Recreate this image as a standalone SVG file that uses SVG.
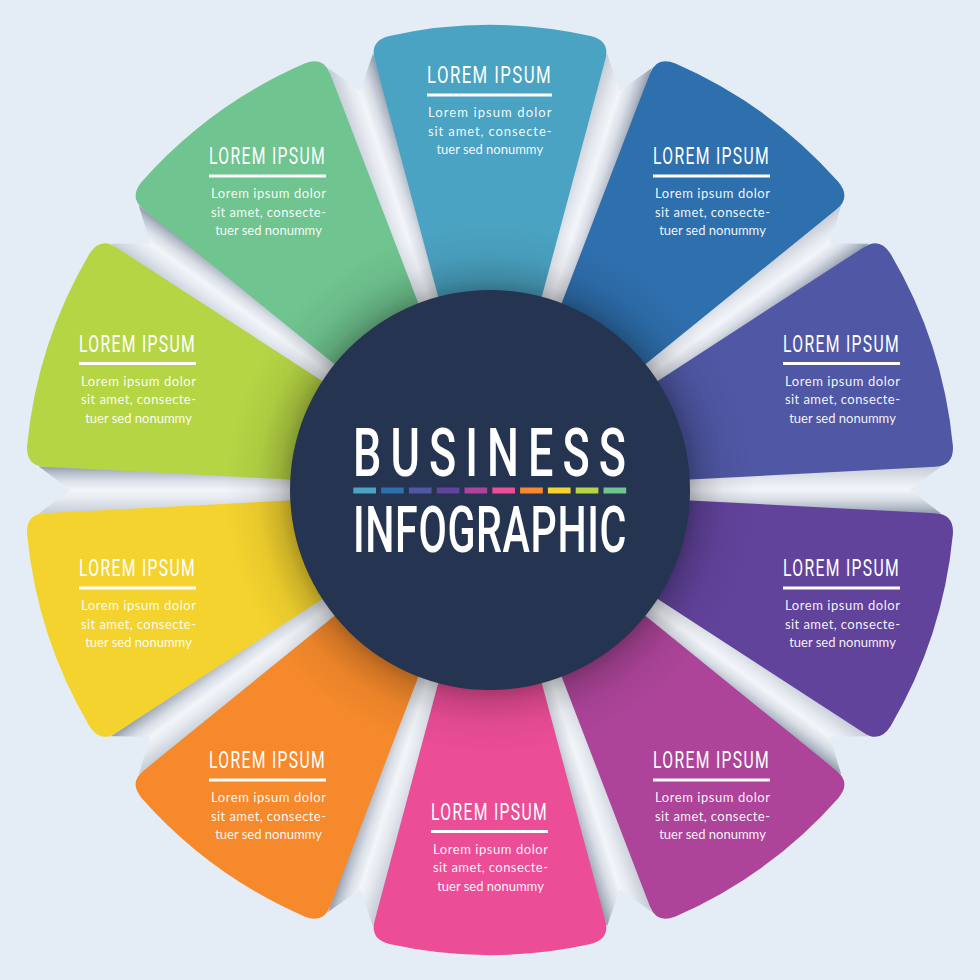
<svg xmlns="http://www.w3.org/2000/svg" xmlns:xlink="http://www.w3.org/1999/xlink" width="980" height="980" viewBox="0 0 980 980">
<defs>
<style>
.title{font-family:Roboto,"Liberation Sans",sans-serif;font-size:23.4px;font-weight:400;fill:#ffffff;letter-spacing:2px}
.rule{fill:#ffffff}
.body{font-family:Lato,"Open Sans","Liberation Sans",sans-serif;font-size:13px;fill:#ffffff;fill-opacity:0.95}
.mid{text-anchor:middle}
.big{font-family:Roboto,"Liberation Sans",sans-serif;font-weight:500;fill:#ffffff}
</style>
<path id="seg" d="M 440.8 306.5 L 374.6 59.2 Q 369.65 40.85 389.4 36.0 A 465 465 0 0 1 590.6 36.0 Q 610.35 40.85 605.4 59.2 L 539.2 306.5 Z"/>
<linearGradient id="gapGrad" gradientUnits="userSpaceOnUse" x1="468" y1="0" x2="512" y2="0">
<stop offset="0" stop-color="#c9cfd9"/>
<stop offset="0.3" stop-color="#e6eaf0"/>
<stop offset="0.5" stop-color="#f2f5f9"/>
<stop offset="0.72" stop-color="#d9dee6"/>
<stop offset="0.9" stop-color="#b4bcc9"/>
<stop offset="1" stop-color="#9aa3b3"/>
</linearGradient>
<path id="gap" d="M 473.0 295.7 L 466.34 38.6 L 490 70 L 513.66 38.6 L 507.0 295.7 Z" fill="url(#gapGrad)"/>
<radialGradient id="inner" gradientUnits="userSpaceOnUse" cx="490" cy="490" r="265">
<stop offset="0.74" stop-color="#000" stop-opacity="0.32"/>
<stop offset="0.8" stop-color="#000" stop-opacity="0.16"/>
<stop offset="0.88" stop-color="#000" stop-opacity="0.05"/>
<stop offset="1" stop-color="#000" stop-opacity="0"/>
</radialGradient>
</defs>
<rect width="980" height="980" fill="#e4ecf5"/>
<g id="folds">
<use href="#gap" transform="rotate(18 490 490)"/>
<use href="#gap" transform="rotate(54 490 490)"/>
<use href="#gap" transform="rotate(90 490 490)"/>
<use href="#gap" transform="rotate(126 490 490)"/>
<use href="#gap" transform="rotate(162 490 490)"/>
<use href="#gap" transform="rotate(198 490 490)"/>
<use href="#gap" transform="rotate(234 490 490)"/>
<use href="#gap" transform="rotate(270 490 490)"/>
<use href="#gap" transform="rotate(306 490 490)"/>
<use href="#gap" transform="rotate(342 490 490)"/>
</g>
<g id="connectors"/>
<g id="node-1">
<use href="#seg" fill="#4aa3c2"/>
<text class="title" x="427" y="83" textLength="125" lengthAdjust="spacingAndGlyphs">LOREM IPSUM</text>
<rect class="rule" x="427" y="93.5" width="125" height="3"/>
<text class="body" x="428" y="117" textLength="123.5">Lorem ipsum dolor</text>
<text class="body" x="428" y="135.5" textLength="123.5">sit amet, consecte-</text>
<text class="body mid" x="489.75" y="154">tuer sed nonummy</text>
</g>
<g id="node-2">
<use href="#seg" fill="#2e6fae" transform="rotate(36 490 490)"/>
<text class="title" x="653" y="164" textLength="117" lengthAdjust="spacingAndGlyphs">LOREM IPSUM</text>
<rect class="rule" x="653" y="174.5" width="117" height="3"/>
<text class="body" x="655" y="198" textLength="115">Lorem ipsum dolor</text>
<text class="body" x="655" y="216.5" textLength="115">sit amet, consecte-</text>
<text class="body mid" x="712.5" y="235">tuer sed nonummy</text>
</g>
<g id="node-3">
<use href="#seg" fill="#5058a6" transform="rotate(72 490 490)"/>
<text class="title" x="783" y="351.5" textLength="117" lengthAdjust="spacingAndGlyphs">LOREM IPSUM</text>
<rect class="rule" x="783" y="362" width="117" height="3"/>
<text class="body" x="785" y="385.5" textLength="115">Lorem ipsum dolor</text>
<text class="body" x="785" y="404" textLength="115">sit amet, consecte-</text>
<text class="body mid" x="842.5" y="422.5">tuer sed nonummy</text>
</g>
<g id="node-4">
<use href="#seg" fill="#62439c" transform="rotate(108 490 490)"/>
<text class="title" x="783" y="576" textLength="117" lengthAdjust="spacingAndGlyphs">LOREM IPSUM</text>
<rect class="rule" x="783" y="586.5" width="117" height="3"/>
<text class="body" x="785" y="610" textLength="115">Lorem ipsum dolor</text>
<text class="body" x="785" y="628.5" textLength="115">sit amet, consecte-</text>
<text class="body mid" x="842.5" y="647">tuer sed nonummy</text>
</g>
<g id="node-5">
<use href="#seg" fill="#ad4499" transform="rotate(144 490 490)"/>
<text class="title" x="653" y="768" textLength="117" lengthAdjust="spacingAndGlyphs">LOREM IPSUM</text>
<rect class="rule" x="653" y="778.5" width="117" height="3"/>
<text class="body" x="655" y="802" textLength="115">Lorem ipsum dolor</text>
<text class="body" x="655" y="820.5" textLength="115">sit amet, consecte-</text>
<text class="body mid" x="712.5" y="839">tuer sed nonummy</text>
</g>
<g id="node-6">
<use href="#seg" fill="#ec4d97" transform="rotate(180 490 490)"/>
<text class="title" x="431" y="819.5" textLength="117" lengthAdjust="spacingAndGlyphs">LOREM IPSUM</text>
<rect class="rule" x="431" y="830" width="117" height="3"/>
<text class="body" x="433" y="853.5" textLength="115">Lorem ipsum dolor</text>
<text class="body" x="433" y="872" textLength="115">sit amet, consecte-</text>
<text class="body mid" x="490.5" y="890.5">tuer sed nonummy</text>
</g>
<g id="node-7">
<use href="#seg" fill="#f5892b" transform="rotate(216 490 490)"/>
<text class="title" x="209" y="768" textLength="117" lengthAdjust="spacingAndGlyphs">LOREM IPSUM</text>
<rect class="rule" x="209" y="778.5" width="117" height="3"/>
<text class="body" x="211" y="802" textLength="115">Lorem ipsum dolor</text>
<text class="body" x="211" y="820.5" textLength="115">sit amet, consecte-</text>
<text class="body mid" x="268.5" y="839">tuer sed nonummy</text>
</g>
<g id="node-8">
<use href="#seg" fill="#f4d32e" transform="rotate(252 490 490)"/>
<text class="title" x="79" y="576" textLength="117" lengthAdjust="spacingAndGlyphs">LOREM IPSUM</text>
<rect class="rule" x="79" y="586.5" width="117" height="3"/>
<text class="body" x="81" y="610" textLength="115">Lorem ipsum dolor</text>
<text class="body" x="81" y="628.5" textLength="115">sit amet, consecte-</text>
<text class="body mid" x="138.5" y="647">tuer sed nonummy</text>
</g>
<g id="node-9">
<use href="#seg" fill="#b6d544" transform="rotate(288 490 490)"/>
<text class="title" x="79" y="351.5" textLength="117" lengthAdjust="spacingAndGlyphs">LOREM IPSUM</text>
<rect class="rule" x="79" y="362" width="117" height="3"/>
<text class="body" x="81" y="385.5" textLength="115">Lorem ipsum dolor</text>
<text class="body" x="81" y="404" textLength="115">sit amet, consecte-</text>
<text class="body mid" x="138.5" y="422.5">tuer sed nonummy</text>
</g>
<g id="node-10">
<use href="#seg" fill="#6fc48f" transform="rotate(324 490 490)"/>
<text class="title" x="209" y="164" textLength="117" lengthAdjust="spacingAndGlyphs">LOREM IPSUM</text>
<rect class="rule" x="209" y="174.5" width="117" height="3"/>
<text class="body" x="211" y="198" textLength="115">Lorem ipsum dolor</text>
<text class="body" x="211" y="216.5" textLength="115">sit amet, consecte-</text>
<text class="body mid" x="268.5" y="235">tuer sed nonummy</text>
</g>
<circle id="inner-shadow" cx="490" cy="490" r="265" fill="url(#inner)"/>
<g id="center">
<circle cx="490" cy="490" r="200" fill="#253450"/>
<text class="big" x="353" y="476" font-size="67" letter-spacing="13.5" textLength="282" lengthAdjust="spacingAndGlyphs">BUSINESS</text>
<rect x="353.3" y="487.5" width="22.7" height="6" fill="#4aa3c2"/>
<rect x="381.1" y="487.5" width="22.7" height="6" fill="#2e6fae"/>
<rect x="408.9" y="487.5" width="22.7" height="6" fill="#5058a6"/>
<rect x="436.7" y="487.5" width="22.7" height="6" fill="#62439c"/>
<rect x="464.5" y="487.5" width="22.7" height="6" fill="#ad4499"/>
<rect x="492.3" y="487.5" width="22.7" height="6" fill="#ec4d97"/>
<rect x="520.1" y="487.5" width="22.7" height="6" fill="#f5892b"/>
<rect x="547.9" y="487.5" width="22.7" height="6" fill="#f4d32e"/>
<rect x="575.7" y="487.5" width="22.7" height="6" fill="#b6d544"/>
<rect x="603.5" y="487.5" width="22.7" height="6" fill="#6fc48f"/>
<text class="big" x="353" y="551.5" font-size="64.3" letter-spacing="1" textLength="274" lengthAdjust="spacingAndGlyphs">INFOGRAPHIC</text>
</g>
</svg>
